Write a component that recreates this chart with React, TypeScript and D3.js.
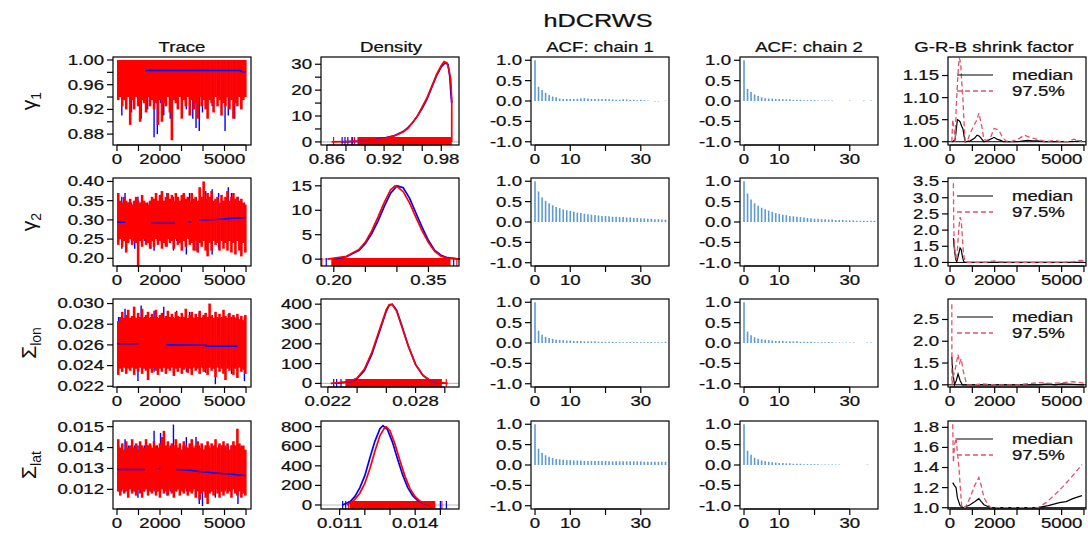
import React from 'react';
import * as d3 from 'd3';

const SX = 1.33;
const FONT = "'Liberation Sans', Arial, sans-serif";
const INK = '#111';
const RED = '#FF0000';
const BLUE = '#0000FF';
const PINK = '#DF536B';
const ACFC = '#5B9BD5';

const COLS = [113, 321, 531, 740, 948];
const ROWS = [57, 178, 299, 421];
const PW = 138;
const PH = 88;

const TITLE = 'hDCRWS';
const COL_TITLES = ['Trace', 'Density', 'ACF: chain 1', 'ACF: chain 2', 'G-R-B shrink factor'];
const COL_TITLE_X = [182, 391, 600, 809, 994];

// ---------- trace data: per-bin min / max of each chain over iterations 0..6000 ----------
const g1RedHi = [1.0];
const g1RedLo = [0.935, 0.94, 0.925, 0.935, 0.92, 0.94, 0.895, 0.935, 0.92, 0.94, 0.925, 0.9, 0.935, 0.93, 0.915, 0.94, 0.925, 0.935, 0.92, 0.93, 0.895, 0.935, 0.9, 0.93, 0.925, 0.94, 0.915, 0.87, 0.935, 0.93, 0.92, 0.94, 0.905, 0.935, 0.925, 0.94, 0.91, 0.935, 0.92, 0.93, 0.905, 0.94, 0.925, 0.935, 0.92, 0.905, 0.935, 0.93, 0.915, 0.94, 0.925, 0.935, 0.91, 0.93, 0.925, 0.94, 0.92, 0.935, 0.905, 0.93, 0.925, 0.94, 0.92, 0.935, 0.94];
const g1BlueHi = [1.0];
const g1BlueLo = [0.94, 0.91, 0.94, 0.94, 0.915, 0.94, 0.94, 0.905, 0.94, 0.92, 0.94, 0.875, 0.88, 0.93, 0.91, 0.94, 0.905, 0.94, 0.94, 0.94, 0.94, 0.92, 0.94, 0.905, 0.89, 0.885, 0.915, 0.94, 0.94, 0.925, 0.94, 0.94, 0.94, 0.885, 0.91, 0.94, 0.905, 0.94, 0.925, 0.94];
const g1Mean = [[1320, 0.983], [5750, 0.983], [5800, 0.981], [6000, 0.981]];

const g2RedHi = [0.37, 0.35, 0.345, 0.36, 0.35, 0.345, 0.355, 0.34, 0.35, 0.36, 0.35, 0.345, 0.365, 0.35, 0.345, 0.34, 0.35, 0.36, 0.355, 0.37, 0.35, 0.365, 0.375, 0.35, 0.36, 0.37, 0.355, 0.365, 0.35, 0.37, 0.36, 0.35, 0.365, 0.37, 0.355, 0.36, 0.35, 0.37, 0.355, 0.36, 0.35, 0.385, 0.36, 0.4, 0.355, 0.37, 0.36, 0.375, 0.35, 0.355, 0.36, 0.345, 0.365, 0.35, 0.36, 0.375, 0.35, 0.36, 0.37, 0.355, 0.36, 0.35, 0.355, 0.345, 0.34];
const g2RedLo = [0.235, 0.25, 0.23, 0.245, 0.215, 0.24, 0.25, 0.235, 0.245, 0.24, 0.18, 0.245, 0.23, 0.25, 0.235, 0.24, 0.225, 0.245, 0.23, 0.25, 0.235, 0.245, 0.225, 0.24, 0.23, 0.25, 0.24, 0.245, 0.225, 0.25, 0.235, 0.24, 0.22, 0.245, 0.23, 0.25, 0.235, 0.24, 0.22, 0.245, 0.215, 0.24, 0.23, 0.245, 0.22, 0.205, 0.24, 0.22, 0.245, 0.235, 0.24, 0.22, 0.245, 0.225, 0.24, 0.22, 0.245, 0.215, 0.24, 0.21, 0.245, 0.22, 0.205, 0.24, 0.215];
const g2BlueHi = [0.345, 0.36, 0.37, 0.345, 0.345, 0.345, 0.36, 0.345, 0.345, 0.345, 0.345, 0.345, 0.345, 0.365, 0.345, 0.37, 0.345, 0.36, 0.345, 0.345, 0.345, 0.345, 0.37, 0.345, 0.345, 0.345, 0.345, 0.375, 0.345, 0.38, 0.345, 0.37, 0.345, 0.345, 0.385, 0.37, 0.345, 0.36, 0.345, 0.345];
const g2BlueLo = [0.245, 0.225, 0.245, 0.245, 0.245, 0.225, 0.245, 0.245, 0.245, 0.245, 0.225, 0.22, 0.245, 0.245, 0.245, 0.23, 0.245, 0.22, 0.245, 0.245, 0.245, 0.21, 0.245, 0.245, 0.22, 0.245, 0.245, 0.245, 0.245, 0.21, 0.245, 0.225, 0.245, 0.245, 0.245, 0.245, 0.245, 0.245, 0.22, 0.245];
const g2Mean = [[15, 0.294], [370, 0.294], null, [1600, 0.291], [2680, 0.291], null, [3290, 0.295], [3450, 0.295], null, [3830, 0.3], [4600, 0.301], [5060, 0.303], [5985, 0.306]];

const lonRedHi = [0.0283, 0.0287, 0.0292, 0.0286, 0.0289, 0.0294, 0.0286, 0.0288, 0.0297, 0.0286, 0.0291, 0.0287, 0.0295, 0.0286, 0.0289, 0.0292, 0.0286, 0.029, 0.0287, 0.0294, 0.0286, 0.0289, 0.0291, 0.0286, 0.0288, 0.0293, 0.0287, 0.029, 0.0286, 0.0292, 0.0288, 0.0286, 0.0291, 0.0287, 0.0295, 0.0286, 0.0289, 0.0292, 0.0286, 0.029, 0.0287, 0.0293, 0.0286, 0.0289, 0.0291, 0.0287, 0.03, 0.0288, 0.0286, 0.0292, 0.0287, 0.029, 0.0286, 0.0294, 0.0288, 0.0286, 0.0291, 0.0287, 0.0289, 0.0286, 0.029, 0.0285, 0.0288, 0.0284, 0.0289];
const lonRedLo = [0.0231, 0.0237, 0.0234, 0.0238, 0.0232, 0.0237, 0.0235, 0.0238, 0.0231, 0.0237, 0.0234, 0.0238, 0.0232, 0.0237, 0.0235, 0.0226, 0.0237, 0.0233, 0.0238, 0.0235, 0.0231, 0.0237, 0.0234, 0.0238, 0.0232, 0.0237, 0.0235, 0.0238, 0.023, 0.0237, 0.0234, 0.0238, 0.0232, 0.0236, 0.0238, 0.0233, 0.0237, 0.0231, 0.0238, 0.0235, 0.0237, 0.0232, 0.0238, 0.0234, 0.0237, 0.0231, 0.0238, 0.0235, 0.0237, 0.0229, 0.0238, 0.0234, 0.0237, 0.0232, 0.0226, 0.0237, 0.0235, 0.0238, 0.0231, 0.0237, 0.0228, 0.0238, 0.0234, 0.0236, 0.0232];
const lonBlueHi = [0.0287, 0.0287, 0.0295, 0.0287, 0.0287, 0.0287, 0.0287, 0.0298, 0.0287, 0.0287, 0.0287, 0.0293, 0.0287, 0.0287, 0.0297, 0.0287, 0.0287, 0.0287, 0.0293, 0.0287, 0.0287, 0.0287, 0.0292, 0.0287, 0.0287, 0.0291, 0.0287, 0.0287, 0.0287, 0.0289, 0.0287, 0.0287, 0.0287, 0.0287, 0.029, 0.0287, 0.0287, 0.0287, 0.0287, 0.0287];
const lonBlueLo = [0.0238, 0.0234, 0.0238, 0.0238, 0.0238, 0.0238, 0.0225, 0.0238, 0.0238, 0.0238, 0.0238, 0.0234, 0.0238, 0.0238, 0.0238, 0.0238, 0.0238, 0.0233, 0.0238, 0.0238, 0.0238, 0.0234, 0.0238, 0.0238, 0.0238, 0.0238, 0.0238, 0.0233, 0.0238, 0.0238, 0.0222, 0.0238, 0.0238, 0.0238, 0.0238, 0.0232, 0.0238, 0.0238, 0.0238, 0.0225];
const lonMean = [[15, 0.02612], [1000, 0.02612], null, [2290, 0.02602], [4140, 0.02598], [4140, 0.02588], [5600, 0.02586]];

const latRedHi = [0.0144, 0.014, 0.0142, 0.0139, 0.0143, 0.014, 0.0141, 0.0144, 0.014, 0.0142, 0.0139, 0.0143, 0.0141, 0.014, 0.0144, 0.0141, 0.0142, 0.014, 0.0143, 0.0141, 0.014, 0.0142, 0.0145, 0.0148, 0.0141, 0.0143, 0.014, 0.0142, 0.0141, 0.0144, 0.014, 0.0142, 0.0139, 0.0143, 0.0141, 0.014, 0.0142, 0.0144, 0.014, 0.0141, 0.0143, 0.014, 0.0142, 0.0139, 0.0141, 0.0143, 0.014, 0.0142, 0.0141, 0.0144, 0.014, 0.0142, 0.0141, 0.0143, 0.014, 0.0142, 0.0139, 0.0141, 0.0143, 0.0141, 0.0149, 0.0142, 0.014, 0.0141, 0.0139];
const latRedLo = [0.0119, 0.0117, 0.012, 0.0118, 0.0119, 0.0116, 0.012, 0.0118, 0.0119, 0.0117, 0.012, 0.0118, 0.0116, 0.0119, 0.012, 0.0117, 0.0119, 0.0118, 0.012, 0.0117, 0.0119, 0.0116, 0.012, 0.0118, 0.0119, 0.0117, 0.012, 0.0118, 0.0116, 0.0119, 0.012, 0.0117, 0.0119, 0.0118, 0.012, 0.0117, 0.0119, 0.0118, 0.012, 0.0116, 0.0119, 0.0115, 0.0118, 0.0119, 0.0116, 0.0113, 0.0118, 0.0119, 0.0117, 0.012, 0.0118, 0.0116, 0.0119, 0.0117, 0.012, 0.0118, 0.0119, 0.0116, 0.012, 0.0118, 0.0117, 0.0119, 0.0116, 0.0118, 0.0117];
const latBlueHi = [0.0141, 0.0141, 0.0144, 0.0141, 0.0141, 0.0141, 0.0141, 0.0141, 0.0141, 0.0141, 0.0141, 0.0148, 0.0141, 0.0147, 0.0141, 0.0141, 0.0141, 0.0151, 0.0141, 0.0141, 0.0141, 0.0145, 0.0141, 0.0141, 0.0145, 0.0141, 0.0141, 0.0141, 0.0141, 0.0141, 0.0141, 0.0141, 0.0141, 0.0141, 0.0141, 0.0141, 0.0141, 0.0141, 0.0141, 0.0138];
const latBlueLo = [0.0119, 0.0119, 0.0119, 0.0117, 0.0119, 0.0119, 0.0116, 0.0119, 0.0119, 0.0119, 0.0119, 0.0119, 0.0119, 0.0119, 0.0119, 0.0117, 0.0119, 0.0119, 0.0119, 0.0119, 0.0119, 0.0119, 0.0119, 0.0119, 0.0119, 0.0113, 0.0112, 0.0119, 0.0119, 0.0119, 0.0116, 0.0119, 0.0119, 0.0119, 0.0119, 0.0119, 0.0119, 0.0113, 0.0119, 0.0119];
const latMean = [[15, 0.01295], [1290, 0.01295], null, [1930, 0.013], [2010, 0.013], null, [2740, 0.01295], [3500, 0.0129], [4000, 0.01283], [4600, 0.01278], [5300, 0.01272], [5985, 0.01266]];

// ---------- density data ----------
const d1Blue = [[0.875, 0], [0.9, 0.3], [0.91, 0.8], [0.92, 1.5], [0.93, 2.3], [0.94, 4], [0.945, 5.5], [0.95, 7.5], [0.955, 10], [0.96, 13], [0.965, 16.5], [0.97, 21], [0.975, 25.5], [0.98, 29], [0.984, 30.5], [0.987, 30], [0.989, 25], [0.99, 19], [0.991, 15]];
const d1Red = [[0.865, 0], [0.9, 0.3], [0.91, 0.7], [0.92, 1.3], [0.93, 2.2], [0.94, 3.8], [0.945, 5.2], [0.95, 7.5], [0.955, 10], [0.96, 13.5], [0.965, 17], [0.97, 21.5], [0.975, 26], [0.98, 29.5], [0.983, 31], [0.986, 30.5], [0.988, 28], [0.99, 24], [0.991, 16], [0.991, 0]];
const d2Blue = [[0.2, 0], [0.22, 0.5], [0.24, 1.8], [0.25, 3.2], [0.26, 5.2], [0.27, 7.8], [0.28, 10.8], [0.29, 13.5], [0.3, 15], [0.31, 14.6], [0.32, 12.5], [0.33, 9.5], [0.34, 6.5], [0.35, 3.8], [0.36, 1.8], [0.37, 0.8], [0.38, 0.3], [0.4, 0]];
const d2Red = [[0.19, 0], [0.22, 0.6], [0.24, 2], [0.25, 3.5], [0.26, 5.8], [0.27, 8.6], [0.28, 11.6], [0.29, 14.2], [0.297, 15], [0.3, 14.9], [0.31, 13.8], [0.32, 11.5], [0.33, 8.6], [0.34, 5.8], [0.35, 3.4], [0.36, 1.6], [0.37, 0.6], [0.38, 0.2], [0.4, 0]];
const d3Blue = [[0.0225, 0], [0.0235, 8], [0.024, 25], [0.0245, 65], [0.025, 145], [0.0255, 255], [0.026, 365], [0.0262, 395], [0.0264, 400], [0.0267, 370], [0.027, 305], [0.0275, 190], [0.028, 95], [0.0285, 40], [0.029, 14], [0.0295, 4], [0.03, 0]];
const d3Red = [[0.0222, 0], [0.0235, 9], [0.024, 27], [0.0245, 72], [0.025, 155], [0.0255, 265], [0.026, 372], [0.0262, 398], [0.0264, 398], [0.0267, 365], [0.027, 300], [0.0275, 188], [0.028, 96], [0.0285, 42], [0.029, 15], [0.0295, 5], [0.0302, 0]];
const d4Blue = [[0.0111, 0], [0.0114, 30], [0.0116, 85], [0.0118, 175], [0.012, 300], [0.0122, 480], [0.0124, 650], [0.0126, 780], [0.01272, 810], [0.0129, 770], [0.0131, 640], [0.0133, 470], [0.0135, 310], [0.0137, 180], [0.0139, 95], [0.0141, 45], [0.0143, 18], [0.0146, 0]];
const d4Red = [[0.0113, 0], [0.0116, 55], [0.0118, 120], [0.012, 220], [0.0122, 370], [0.0124, 550], [0.0126, 710], [0.0128, 795], [0.01285, 800], [0.013, 760], [0.0132, 620], [0.0134, 450], [0.0136, 290], [0.0138, 165], [0.014, 85], [0.0142, 38], [0.0144, 14], [0.0147, 0]];

const rug1Blue = [0.876, 0.879, 0.882, 0.887];
const rug1Red = [0.867, 0.886, 0.889];
const rug1Dense = [0.892, 0.991];
const rug2Blue = [0.188, 0.39];
const rug2Red = [0.181, 0.395];
const rug2Dense = [0.196, 0.385];
const rug3Blue = [0.0224, 0.0226, 0.0229];
const rug3Red = [0.0301];
const rug3Dense = [0.0232, 0.0298];
const rug4Blue = [0.01112, 0.01124, 0.01458, 0.015, 0.01524];
const rug4Red = [0.01135, 0.01506];
const rug4Dense = [0.0114, 0.0148];

// ---------- ACF data (lags 0..37) ----------
const acf1c1 = [1.0, 0.35, 0.27, 0.2, 0.15, 0.11, 0.09, 0.06, 0.05, 0.05, 0.05, 0.05, 0.05, 0.06, 0.07, 0.06, 0.05, 0.05, 0.05, 0.05, 0.05, 0.04, 0.04, 0.03, 0.03, 0.04, 0.04, 0.03, 0.03, 0.02, 0.03, 0.02, 0.01, 0.0, -0.01, -0.01, 0.0, 0.01];
const acf1c2 = [1.0, 0.3, 0.22, 0.16, 0.12, 0.09, 0.07, 0.06, 0.06, 0.05, 0.05, 0.04, 0.04, 0.04, 0.03, 0.03, 0.03, 0.02, 0.02, 0.02, 0.02, 0.01, 0.01, 0.01, 0.01, 0.01, 0.0, 0.0, 0.0, 0.0, 0.01, 0.0, 0.0, 0.0, 0.01, 0.0, 0.01, 0.0];
const acf2c1 = [1.0, 0.75, 0.6, 0.52, 0.46, 0.41, 0.37, 0.34, 0.31, 0.29, 0.27, 0.25, 0.23, 0.22, 0.2, 0.19, 0.18, 0.17, 0.16, 0.15, 0.15, 0.14, 0.13, 0.13, 0.12, 0.12, 0.11, 0.11, 0.1, 0.1, 0.09, 0.09, 0.08, 0.08, 0.07, 0.07, 0.06, 0.06];
const acf2c2 = [1.0, 0.7, 0.55, 0.46, 0.4, 0.35, 0.31, 0.28, 0.25, 0.22, 0.2, 0.18, 0.17, 0.15, 0.14, 0.13, 0.12, 0.11, 0.1, 0.09, 0.08, 0.08, 0.07, 0.07, 0.06, 0.06, 0.05, 0.05, 0.05, 0.04, 0.04, 0.04, 0.03, 0.03, 0.03, 0.03, 0.03, 0.03];
const acf3c1 = [1.0, 0.3, 0.2, 0.15, 0.12, 0.1, 0.08, 0.07, 0.07, 0.06, 0.06, 0.05, 0.05, 0.05, 0.04, 0.04, 0.04, 0.04, 0.03, 0.03, 0.03, 0.03, 0.03, 0.02, 0.02, 0.02, 0.02, 0.02, 0.02, 0.02, 0.02, 0.02, 0.02, 0.02, 0.02, 0.02, 0.02, 0.03];
const acf3c2 = [1.0, 0.28, 0.19, 0.14, 0.11, 0.09, 0.08, 0.07, 0.06, 0.05, 0.05, 0.05, 0.04, 0.04, 0.04, 0.04, 0.03, 0.03, 0.03, 0.03, 0.02, 0.02, 0.02, 0.02, 0.02, 0.02, 0.01, 0.01, 0.01, 0.01, 0.01, 0.01, 0.0, 0.0, 0.0, 0.01, 0.01, 0.0];
const acf4c1 = [1.0, 0.4, 0.3, 0.24, 0.2, 0.17, 0.15, 0.14, 0.13, 0.12, 0.12, 0.11, 0.11, 0.11, 0.1, 0.1, 0.1, 0.1, 0.1, 0.1, 0.1, 0.09, 0.09, 0.09, 0.09, 0.09, 0.09, 0.09, 0.09, 0.09, 0.09, 0.08, 0.08, 0.08, 0.08, 0.08, 0.08, 0.08];
const acf4c2 = [1.0, 0.35, 0.25, 0.18, 0.14, 0.11, 0.09, 0.08, 0.07, 0.06, 0.05, 0.05, 0.04, 0.04, 0.03, 0.03, 0.03, 0.02, 0.02, 0.02, 0.02, 0.02, 0.01, 0.01, 0.01, 0.01, 0.01, 0.01, 0.0, 0.0, 0.0, 0.0, 0.0, 0.0, 0.0, 0.01, 0.0, 0.0];

// ---------- Gelman-Rubin-Brooks data [iteration, value] ----------
const grb1Med = [[80, 1.0], [120, 1.0], [230, 1.005], [330, 1.05], [400, 1.048], [450, 1.045], [520, 1.035], [575, 1.03], [640, 1.01], [680, 1.0], [900, 1.002], [1100, 1.008], [1210, 1.015], [1300, 1.013], [1360, 1.01], [1515, 1.0], [1700, 1.003], [1900, 1.008], [1970, 1.01], [2100, 1.006], [2270, 1.003], [2400, 1.0], [3000, 1.0], [3300, 1.002], [3480, 1.003], [3700, 1.002], [3940, 1.002], [4200, 1.0], [5000, 1.0], [5600, 1.001], [5910, 1.002]];
const grb1Q = [[80, 1.0], [120, 1.05], [180, 1.03], [230, 1.0], [280, 1.08], [330, 1.13], [380, 1.17], [410, 1.19], [450, 1.185], [485, 1.17], [530, 1.13], [575, 1.1], [630, 1.04], [680, 1.0], [800, 1.005], [910, 1.02], [1050, 1.035], [1210, 1.05], [1290, 1.065], [1360, 1.05], [1440, 1.03], [1515, 1.005], [1650, 1.003], [1820, 1.01], [1970, 1.03], [2100, 1.028], [2200, 1.025], [2350, 1.01], [2500, 1.002], [2700, 1.0], [3030, 1.005], [3330, 1.015], [3560, 1.01], [3940, 1.005], [4300, 1.0], [4700, 1.003], [5000, 1.0], [5300, 1.0], [5530, 1.006], [5760, 1.002], [5910, 1.0]];
const grb2Med = [[150, 1.75], [180, 1.5], [200, 1.4], [250, 1.1], [300, 1.02], [350, 1.15], [400, 1.3], [450, 1.45], [500, 1.4], [550, 1.2], [600, 1.05], [650, 1.0], [700, 1.0], [1000, 1.0], [2000, 1.005], [3000, 1.0], [4000, 1.0], [5000, 1.0], [6000, 1.005]];
const grb2Q = [[150, 3.45], [170, 2.0], [200, 1.5], [250, 1.2], [300, 1.05], [350, 1.6], [400, 2.1], [450, 2.4], [500, 2.3], [550, 1.8], [600, 1.3], [650, 1.1], [700, 1.02], [800, 1.0], [1600, 1.0], [1800, 1.03], [2000, 1.05], [2200, 1.02], [2500, 1.01], [3000, 1.0], [4000, 1.0], [5000, 1.0], [5500, 1.02], [5800, 1.06], [6000, 1.05]];
const grb3Med = [[80, 1.65], [120, 1.3], [200, 1.0], [280, 1.1], [360, 1.25], [450, 1.1], [550, 1.0], [760, 1.0], [1500, 1.0], [3000, 1.0], [4000, 1.0], [4400, 1.02], [4700, 1.0], [5000, 1.02], [5500, 1.01], [6000, 1.0]];
const grb3Q = [[80, 2.85], [85, 1.0], [150, 1.2], [250, 1.4], [360, 1.7], [430, 1.5], [500, 1.6], [600, 1.3], [700, 1.1], [760, 1.0], [1000, 1.0], [1500, 1.02], [2000, 1.0], [3000, 1.0], [4000, 1.05], [4500, 1.03], [5000, 1.05], [5500, 1.07], [6000, 1.04]];
const grb4Med = [[120, 1.25], [200, 1.22], [270, 1.2], [330, 1.1], [450, 1.02], [600, 1.0], [900, 1.03], [1100, 1.06], [1290, 1.09], [1400, 1.06], [1520, 1.03], [1820, 1.0], [3940, 1.0], [4400, 1.02], [4900, 1.05], [5200, 1.06], [5500, 1.09], [5910, 1.12]];
const grb4Q = [[120, 1.83], [150, 1.45], [200, 1.62], [270, 1.7], [330, 1.55], [400, 1.4], [460, 1.2], [530, 1.0], [680, 1.0], [900, 1.1], [1100, 1.22], [1290, 1.3], [1400, 1.22], [1520, 1.1], [1700, 1.03], [1820, 1.0], [2500, 1.0], [3940, 1.0], [4300, 1.05], [4700, 1.13], [5100, 1.22], [5500, 1.32], [5910, 1.43]];
const LEGEND = ['median', '97.5%'];

// ---------- axes ticks / labels ----------
const iterTicks = [0, 1000, 2000, 3000, 4000, 5000, 6000];
const iterLabels = ['0', '', '2000', '', '', '5000', ''];
const lagTicks = [0, 10, 20, 30];
const lagLabels = ['0', '10', '', '30'];
const acfYTicks = [-1, -0.5, 0, 0.5, 1];
const acfYLabels = ['-1.0', '-0.5', '0.0', '0.5', '1.0'];

const rows = [
  {
    label: 'γ', sub: '1',
    traceY: [0.8624, 1.0048], traceTicks: [0.88, 0.9, 0.92, 0.94, 0.96, 0.98, 1.0], traceLabels: ['0.88', '', '0.92', '', '0.96', '', '1.00'],
    redHi: g1RedHi, redLo: g1RedLo, blueHi: g1BlueHi, blueLo: g1BlueLo, mean: g1Mean,
    densX: [0.8538, 0.9986], densY: [-1.2, 32.8], densXTicks: [0.86, 0.88, 0.9, 0.92, 0.94, 0.96, 0.98], densXLabels: ['0.86', '', '', '0.92', '', '', '0.98'],
    densYTicks: [0, 5, 10, 15, 20, 25, 30], densYLabels: ['0', '', '10', '', '20', '', '30'],
    dBlue: d1Blue, dRed: d1Red, rugBlue: rug1Blue, rugRed: rug1Red, rugDense: rug1Dense,
    acf1: acf1c1, acf2: acf1c2,
    grbY: [0.9926, 1.192], grbTicks: [1.0, 1.05, 1.1, 1.15], grbLabels: ['1.00', '1.05', '1.10', '1.15'], med: grb1Med, q: grb1Q,
  },
  {
    label: 'γ', sub: '2',
    traceY: [0.18, 0.409], traceTicks: [0.2, 0.25, 0.3, 0.35, 0.4], traceLabels: ['0.20', '0.25', '0.30', '0.35', '0.40'],
    redHi: g2RedHi, redLo: g2RedLo, blueHi: g2BlueHi, blueLo: g2BlueLo, mean: g2Mean,
    densX: [0.1797, 0.3984], densY: [-1.4, 16.6], densXTicks: [0.2, 0.25, 0.3, 0.35], densXLabels: ['0.20', '', '', '0.35'],
    densYTicks: [0, 5, 10, 15], densYLabels: ['0', '5', '10', '15'],
    dBlue: d2Blue, dRed: d2Red, rugBlue: rug2Blue, rugRed: rug2Red, rugDense: rug2Dense,
    acf1: acf2c1, acf2: acf2c2,
    grbY: [0.89, 3.61], grbTicks: [1, 1.5, 2, 2.5, 3, 3.5], grbLabels: ['1.0', '1.5', '2.0', '2.5', '3.0', '3.5'], med: grb2Med, q: grb2Q,
  },
  {
    label: 'Σ', sub: 'lon',
    traceY: [0.02193, 0.03044], traceTicks: [0.022, 0.024, 0.026, 0.028, 0.03], traceLabels: ['0.022', '0.024', '0.026', '0.028', '0.030'],
    redHi: lonRedHi, redLo: lonRedLo, blueHi: lonBlueHi, blueLo: lonBlueLo, mean: lonMean,
    densX: [0.02153, 0.03097], densY: [-18, 426], densXTicks: [0.022, 0.024, 0.026, 0.028, 0.03], densXLabels: ['0.022', '', '', '0.028', ''],
    densYTicks: [0, 100, 200, 300, 400], densYLabels: ['0', '100', '200', '300', '400'],
    dBlue: d3Blue, dRed: d3Red, rugBlue: rug3Blue, rugRed: rug3Red, rugDense: rug3Dense,
    acf1: acf3c1, acf2: acf3c2,
    grbY: [0.95, 2.97], grbTicks: [1, 1.5, 2, 2.5], grbLabels: ['1.0', '1.5', '2.0', '2.5'], med: grb3Med, q: grb3Q,
  },
  {
    label: 'Σ', sub: 'lat',
    traceY: [0.01106, 0.01527], traceTicks: [0.012, 0.013, 0.014, 0.015], traceLabels: ['0.012', '0.013', '0.014', '0.015'],
    redHi: latRedHi, redLo: latRedLo, blueHi: latBlueHi, blueLo: latBlueLo, mean: latMean,
    densX: [0.01026, 0.01574], densY: [-41, 858], densXTicks: [0.011, 0.012, 0.013, 0.014, 0.015], densXLabels: ['0.011', '', '', '0.014', ''],
    densYTicks: [0, 200, 400, 600, 800], densYLabels: ['0', '200', '400', '600', '800'],
    dBlue: d4Blue, dRed: d4Red, rugBlue: rug4Blue, rugRed: rug4Red, rugDense: rug4Dense,
    acf1: acf4c1, acf2: acf4c2,
    grbY: [0.987, 1.863], grbTicks: [1, 1.2, 1.4, 1.6, 1.8], grbLabels: ['1.0', '1.2', '1.4', '1.6', '1.8'], med: grb4Med, q: grb4Q,
  },
];

const ITER_DOMAIN = [-185, 6231];
const GRB_DOMAIN = [-91, 6091];
const LAG_DOMAIN = [-1.14, 38];
const ACF_Y = [-1.08, 1.08];

function T({ x, y, anchor = 'middle', size = 14, children, fill = INK, dy = '0' }: any) {
  return (
    <text
      transform={`translate(${x},${y}) scale(${SX},1)`}
      textAnchor={anchor}
      fontSize={size}
      fontFamily={FONT}
      fill={fill}
      stroke={fill}
      strokeWidth={0.25}
      dy={dy}
    >
      {children}
    </text>
  );
}

function Frame({ x0, y0, xs, ys, xTicks, xLabels, yTicks, yLabels, children }: any) {
  const yb = y0 + PH;
  const inside = (t: number) => xs(t) >= x0 - 0.5 && xs(t) <= x0 + PW + 0.5;
  const xt = xTicks.filter(inside);
  return (
    <g>
      <g>{children}</g>
      <rect x={x0} y={y0} width={PW} height={PH} fill="none" stroke="#000" strokeWidth={1.2} />
      {yTicks.map((t: number, i: number) => (
        <g key={'y' + i}>
          <line x1={x0 - 6} x2={x0} y1={ys(t)} y2={ys(t)} stroke="#000" strokeWidth={1.2} />
          {yLabels[i] ? <T x={x0 - 9} y={ys(t)} anchor="end" dy="0.35em">{yLabels[i]}</T> : null}
        </g>
      ))}
      <line x1={xs(xt[0])} x2={xs(xt[xt.length - 1])} y1={yb} y2={yb} stroke="#000" />
      {xTicks.map((t: number, i: number) => {
        if (!inside(t)) return null;
        const px = xs(t);
        return (
          <g key={'x' + i}>
            <line x1={px} x2={px} y1={yb} y2={yb + 6} stroke="#000" strokeWidth={1.2} />
            {xLabels[i] ? <T x={px} y={yb + 19}>{xLabels[i]}</T> : null}
          </g>
        );
      })}
    </g>
  );
}

const at = (arr: number[], i: number) => (arr.length === 1 ? arr[0] : arr[i]);

function TracePanel({ r, x0, y0 }: any) {
  const xs = d3.scaleLinear().domain(ITER_DOMAIN).range([x0, x0 + PW]);
  const ys = d3.scaleLinear().domain(r.traceY).range([y0 + PH, y0]);
  const meanLine = d3.line().defined((d: any) => d != null).x((d: any) => xs(d[0])).y((d: any) => ys(d[1]));
  const nR = r.redLo.length;
  const nB = r.blueLo.length;
  const clip = `clipT${y0}`;
  return (
    <Frame x0={x0} y0={y0} xs={xs} ys={ys} xTicks={iterTicks} xLabels={iterLabels} yTicks={r.traceTicks} yLabels={r.traceLabels}>
      <defs><clipPath id={clip}><rect x={x0} y={y0} width={PW} height={PH} /></clipPath></defs>
      <g clipPath={`url(#${clip})`}>
        {r.blueLo.map((lo: number, i: number) => {
          const px = xs(((i + 0.5) * 6000) / nB);
          return <line key={'b' + i} x1={px} x2={px} y1={ys(lo)} y2={ys(at(r.blueHi, i))} stroke={BLUE} strokeWidth={1.4} />;
        })}
        {r.redLo.map((lo: number, i: number) => {
          const xa = xs((i * 6000) / nR);
          const xb = xs(((i + 1) * 6000) / nR);
          const yt = ys(at(r.redHi, i));
          return <rect key={'r' + i} x={xa} width={xb - xa + 0.6} y={yt} height={ys(lo) - yt} fill={RED} />;
        })}
        <path d={meanLine(r.mean) || ''} fill="none" stroke={BLUE} strokeWidth={1.5} />
      </g>
    </Frame>
  );
}

function DensityPanel({ r, x0, y0 }: any) {
  const xs = d3.scaleLinear().domain(r.densX).range([x0, x0 + PW]);
  const ys = d3.scaleLinear().domain(r.densY).range([y0 + PH, y0]);
  const line = d3.line().x((d: any) => xs(d[0])).y((d: any) => ys(d[1]));
  const yb = y0 + PH;
  const RUG = 8;
  return (
    <Frame x0={x0} y0={y0} xs={xs} ys={ys} xTicks={r.densXTicks} xLabels={r.densXLabels} yTicks={r.densYTicks} yLabels={r.densYLabels}>
      <line x1={x0} x2={x0 + PW} y1={ys(0)} y2={ys(0)} stroke="#BEBEBE" strokeWidth={1.2} />
      {r.rugBlue.map((v: number, i: number) => (
        <line key={'b' + i} x1={xs(v)} x2={xs(v)} y1={yb} y2={yb - RUG} stroke={BLUE} strokeWidth={1.2} />
      ))}
      <rect x={xs(r.rugDense[0])} width={xs(r.rugDense[1]) - xs(r.rugDense[0])} y={yb - RUG} height={RUG} fill={RED} />
      {r.rugRed.map((v: number, i: number) => (
        <line key={'r' + i} x1={xs(v)} x2={xs(v)} y1={yb} y2={yb - RUG} stroke={RED} strokeWidth={1.2} />
      ))}
      <path d={line(r.dBlue) || ''} fill="none" stroke={BLUE} strokeWidth={1.7} />
      <path d={line(r.dRed) || ''} fill="none" stroke={RED} strokeWidth={1.7} />
    </Frame>
  );
}

function AcfPanel({ vals, x0, y0 }: any) {
  const xs = d3.scaleLinear().domain(LAG_DOMAIN).range([x0, x0 + PW]);
  const ys = d3.scaleLinear().domain(ACF_Y).range([y0 + PH, y0]);
  return (
    <Frame x0={x0} y0={y0} xs={xs} ys={ys} xTicks={lagTicks} xLabels={lagLabels} yTicks={acfYTicks} yLabels={acfYLabels}>
      {vals.map((v: number, i: number) => (
        <line key={i} x1={xs(i)} x2={xs(i)} y1={ys(0)} y2={ys(v)} stroke={ACFC} strokeWidth={1.6} />
      ))}
    </Frame>
  );
}

function GrbPanel({ r, x0, y0 }: any) {
  const xs = d3.scaleLinear().domain(GRB_DOMAIN).range([x0, x0 + PW]);
  const ys = d3.scaleLinear().domain(r.grbY).range([y0 + PH, y0]);
  const line = d3.line().x((d: any) => xs(d[0])).y((d: any) => ys(d[1]));
  const clip = `clipG${y0}`;
  const lx1 = x0 + 9, lx2 = x0 + 45, ly1 = y0 + 18, ly2 = y0 + 34;
  return (
    <Frame x0={x0} y0={y0} xs={xs} ys={ys} xTicks={iterTicks} xLabels={iterLabels} yTicks={r.grbTicks} yLabels={r.grbLabels}>
      <defs><clipPath id={clip}><rect x={x0} y={y0} width={PW} height={PH} /></clipPath></defs>
      <g clipPath={`url(#${clip})`}>
        <line x1={x0} x2={x0 + PW} y1={ys(1)} y2={ys(1)} stroke="#000" strokeWidth={1} />
        <path d={line(r.med) || ''} fill="none" stroke="#000" strokeWidth={1.2} />
        <path d={line(r.q) || ''} fill="none" stroke={PINK} strokeWidth={1.3} strokeDasharray="5,3" />
      </g>
      <line x1={lx1} x2={lx2} y1={ly1} y2={ly1} stroke="#000" strokeWidth={1.2} />
      <line x1={lx1} x2={lx2} y1={ly2} y2={ly2} stroke={PINK} strokeWidth={1.3} strokeDasharray="5,3" />
      <T x={x0 + 64} y={ly1 + 5} anchor="start">{LEGEND[0]}</T>
      <T x={x0 + 64} y={ly2 + 5} anchor="start">{LEGEND[1]}</T>
    </Frame>
  );
}

export default function App() {
  return (
    <svg width={1088} height={533} style={{ position: 'absolute', left: 0, top: 0, background: '#fff' }}>
      <rect width={1088} height={533} fill="#fff" />
      <T x={598} y={27} size={19}>{TITLE}</T>
      {COL_TITLES.map((t, i) => (
        <T key={t} x={COL_TITLE_X[i]} y={52}>{t}</T>
      ))}
      {rows.map((r, ri) => {
        const y0 = ROWS[ri];
        return (
          <g key={ri}>
            <text transform={`translate(36,${y0 + PH / 2}) rotate(-90)`} textAnchor="middle" fontFamily={FONT} fontSize={21} fill={INK}>
              <tspan>{r.label}</tspan>
              <tspan dy={5} fontSize={14}>{r.sub}</tspan>
            </text>
            <TracePanel r={r} x0={COLS[0]} y0={y0} />
            <DensityPanel r={r} x0={COLS[1]} y0={y0} />
            <AcfPanel vals={r.acf1} x0={COLS[2]} y0={y0} />
            <AcfPanel vals={r.acf2} x0={COLS[3]} y0={y0} />
            <GrbPanel r={r} x0={COLS[4]} y0={y0} />
          </g>
        );
      })}
    </svg>
  );
}
